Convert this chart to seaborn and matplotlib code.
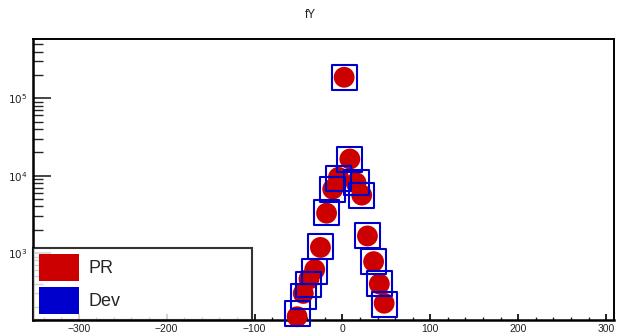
import numpy as np
import pandas as pd
import matplotlib
matplotlib.use("Agg")
import matplotlib.pyplot as plt
import matplotlib.ticker as mticker
from matplotlib.patches import Patch
import seaborn as sns

# data
x_bins = [-51.5, -44.5, -38, -31.5, -25, -18, -11, -4.5, 2, 8.5, 15.5, 22, 28.5, 35.5, 42, 47.5]
dev_vals = [163, 272, 386, 574, 1210, 3300, 6700, 9300, 187000, 16400, 8100, 5500, 1660, 773, 398, 217]
pr_vals = [150, 300, 460, 610, 1180, 3270, 6700, 9500, 187000, 16400, 8100, 5600, 1660, 773, 398, 224]
title = "fY"
legend_labels = ["PR", "Dev"]

sns.set_theme(style="white")
plt.rcParams['font.family'] = ['Liberation Sans', 'DejaVu Sans']

fig = plt.figure(figsize=(6.2, 3.35), dpi=100)
ax = fig.add_axes([33/620, 15/335, (614-33)/620, (320-38.5)/335])

df_pr = pd.DataFrame({"x": x_bins, "y": pr_vals})
df_dev = pd.DataFrame({"x": x_bins, "y": dev_vals})

red = "#cc0000"
blue = "#0000cc"

sns.scatterplot(data=df_pr, x="x", y="y", ax=ax, marker="o", s=15**2,
                color=red, edgecolor="none", linewidth=0, clip_on=False, zorder=3)
sns.scatterplot(data=df_dev, x="x", y="y", ax=ax, marker="s", s=18**2,
                facecolor="none", edgecolor=blue, linewidth=1.5, clip_on=False, zorder=4)

ax.set_yscale("log")
ax.set_xlim(-352, 309)
ax.set_ylim(136, 5.93e5)
ax.set_xlabel("")
ax.set_ylabel("")

ax.xaxis.set_major_locator(mticker.MultipleLocator(100))
ax.xaxis.set_minor_locator(mticker.MultipleLocator(20))
ax.yaxis.set_major_locator(mticker.LogLocator(base=10, numticks=10))
ax.yaxis.set_minor_locator(mticker.LogLocator(base=10, subs=np.arange(2, 10), numticks=20))
ax.yaxis.set_minor_formatter(mticker.NullFormatter())

def yfmt(v, pos):
    e = int(round(np.log10(v)))
    return r"$10^{%d}$" % e
ax.yaxis.set_major_formatter(mticker.FuncFormatter(yfmt))

ax.tick_params(axis="x", which="major", direction="in", length=4.5, width=1.2,
               labelsize=7.5, bottom=True, top=False, pad=3, colors="black")
ax.tick_params(axis="x", which="minor", direction="in", length=2.5, width=1.0,
               bottom=True, top=False)
ax.tick_params(axis="y", which="major", direction="in", length=13, width=1.2,
               labelsize=7.5, left=True, right=False, pad=4)
ax.tick_params(axis="y", which="minor", direction="in", length=7, width=1.0,
               left=True, right=False)
for lab in ax.get_xticklabels() + ax.get_yticklabels():
    lab.set_color("#222222")

for sp in ax.spines.values():
    sp.set_color("black")
ax.spines["left"].set_linewidth(1.8)
ax.spines["bottom"].set_linewidth(1.8)
ax.spines["top"].set_linewidth(1.4)
ax.spines["right"].set_linewidth(1.4)

fig.text(0.5, 1 - 15/335, title, ha="center", va="center", fontsize=8.5, color="#222222")

handles = [Patch(facecolor=red, edgecolor="none"), Patch(facecolor=blue, edgecolor="none")]
leg = ax.legend(handles, legend_labels, loc="lower left", bbox_to_anchor=(0, 0, (252-33)/581, 1),
                mode="expand", frameon=True, fontsize=13, handlelength=2.2, handleheight=1.9,
                borderaxespad=0, borderpad=0.35, labelspacing=0.35, handletextpad=0.5,
                fancybox=False)
leg.get_frame().set_edgecolor("black")
leg.get_frame().set_linewidth(1.5)
leg.set_zorder(5)

fig.savefig("out.png", dpi=100)
